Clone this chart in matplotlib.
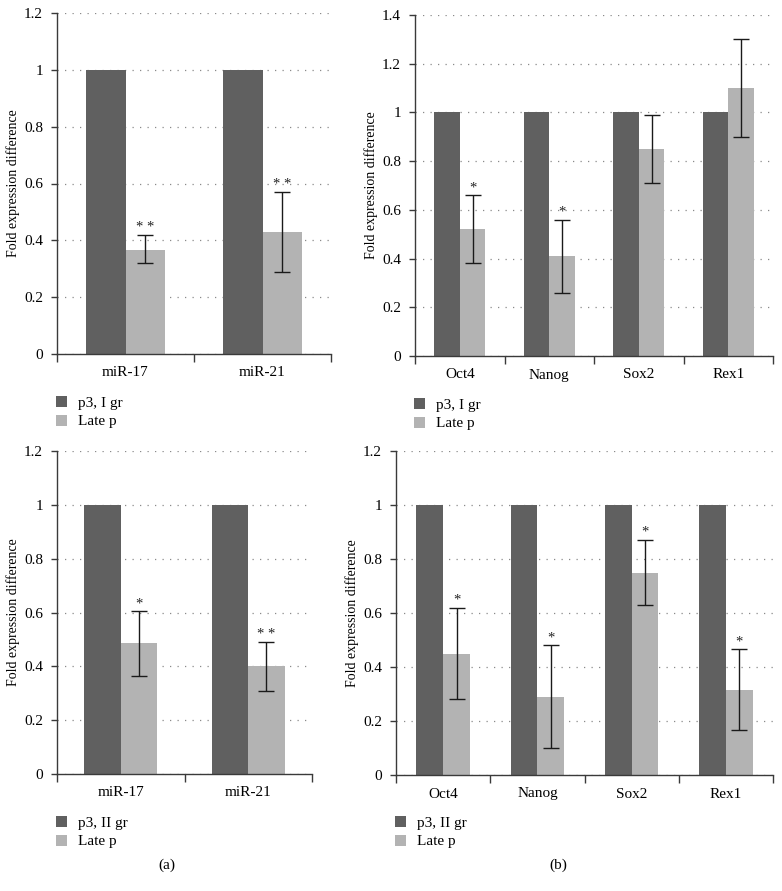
import matplotlib
matplotlib.use("Agg")
import matplotlib.pyplot as plt
from matplotlib.ticker import FuncFormatter
import numpy as np

plt.rcParams["font.family"] = ["Liberation Serif", "DejaVu Serif"]

# ---- data ----
mir_genes = ["miR-17", "miR-21"]
stem_genes = ["Oct4", "Nanog", "Sox2", "Rex1"]

# panel (a) top: p3, I gr vs Late p
a1_ref = [1.0, 1.0]
a1_late = [0.365, 0.43]
a1_lo = [0.32, 0.29]
a1_hi = [0.42, 0.57]
a1_sig = ["* *", "* *"]

# panel (b) top
b1_ref = [1.0, 1.0, 1.0, 1.0]
b1_late = [0.52, 0.41, 0.85, 1.10]
b1_lo = [0.38, 0.26, 0.71, 0.90]
b1_hi = [0.66, 0.56, 0.99, 1.30]
b1_sig = ["*", "*", "", ""]

# panel (a) bottom: p3, II gr vs Late p
a2_ref = [1.0, 1.0]
a2_late = [0.485, 0.40]
a2_lo = [0.365, 0.31]
a2_hi = [0.605, 0.49]
a2_sig = ["*", "* *"]

# panel (b) bottom
b2_ref = [1.0, 1.0, 1.0, 1.0]
b2_late = [0.45, 0.29, 0.75, 0.315]
b2_lo = [0.28, 0.10, 0.63, 0.165]
b2_hi = [0.62, 0.48, 0.87, 0.465]
b2_sig = ["*", "*", "*", "*"]

DARK = "#606060"
LIGHT = "#b3b3b3"
AXC = "#3a3a3a"
W, H = 782, 891
FS = 11


def panel(fig, box, cats, ref, late, lo, hi, sig, ymax, ref_label, leg_xy, ylab_x):
    l, r, t, b = box
    ax = fig.add_axes([l / W, 1 - b / H, (r - l) / W, (b - t) / H])
    x = np.arange(len(cats))
    bw = 0.285
    late = np.array(late)
    err = [late - np.array(lo), np.array(hi) - late]
    ax.bar(x - bw / 2, ref, bw, color=DARK, label=ref_label, zorder=2)
    ax.bar(x + bw / 2, late, bw, color=LIGHT, label="Late p", zorder=2)
    ax.errorbar(x + bw / 2, late, yerr=err, fmt="none", ecolor="#1a1a1a",
                elinewidth=1.0, capsize=5.5, capthick=1.0, zorder=3)
    for xi, h, s in zip(x, hi, sig):
        if s:
            ax.text(xi + bw / 2, h + 0.004, s, ha="center", va="bottom",
                    fontsize=10.5, color="#222")

    ax.set_xlim(-0.5, len(cats) - 0.5)
    ax.set_ylim(0, ymax)
    ax.set_yticks(np.arange(0, ymax + 0.01, 0.2))
    ax.yaxis.set_major_formatter(FuncFormatter(lambda v, p: "%g" % round(v, 1)))
    ax.set_xticks(x)
    ax.set_xticklabels(cats)
    ax.set_xticks(np.arange(len(cats) + 1) - 0.5, minor=True)
    ax.tick_params(axis="x", which="major", length=0, pad=9, labelsize=FS)
    ax.tick_params(axis="x", which="minor", length=6, width=1, color=AXC)
    ax.tick_params(axis="y", length=4, width=1, color=AXC, labelsize=FS, pad=6)

    for s in ["top", "right"]:
        ax.spines[s].set_visible(False)
    for s in ["left", "bottom"]:
        ax.spines[s].set_color(AXC)
        ax.spines[s].set_linewidth(1.0)

    ax.yaxis.grid(True, linestyle=(0, (1, 5)), color="#8a8a8a", linewidth=0.9, zorder=0)
    ax.set_axisbelow(True)

    ax.set_ylabel("Fold expression difference", fontsize=10)
    ax.yaxis.set_label_coords(ylab_x / W, 1 - (t + b) / 2 / H, transform=fig.transFigure)

    ax.legend(loc="upper left", bbox_to_anchor=(leg_xy[0] / W, 1 - leg_xy[1] / H),
              bbox_transform=fig.transFigure, frameon=False, fontsize=FS,
              handlelength=0.75, handleheight=0.75, handletextpad=0.7,
              labelspacing=0.3, borderaxespad=0, borderpad=0)
    return ax


fig = plt.figure(figsize=(W / 100, H / 100), dpi=100)

panel(fig, (57, 331, 13, 354), mir_genes, a1_ref, a1_late, a1_lo, a1_hi, a1_sig,
      1.2, "p3, I gr", (56, 396), 20)
panel(fig, (415, 773, 15, 356), stem_genes, b1_ref, b1_late, b1_lo, b1_hi, b1_sig,
      1.4, "p3, I gr", (414, 398), 378)
panel(fig, (57, 312, 451, 774), mir_genes, a2_ref, a2_late, a2_lo, a2_hi, a2_sig,
      1.2, "p3, II gr", (56, 816), 20)
panel(fig, (396, 773, 451, 775), stem_genes, b2_ref, b2_late, b2_lo, b2_hi, b2_sig,
      1.2, "p3, II gr", (395, 816), 359)

fig.text(167 / W, 1 - 865 / H, "(a)", ha="center", va="center", fontsize=FS)
fig.text(558 / W, 1 - 865 / H, "(b)", ha="center", va="center", fontsize=FS)

fig.savefig("out.png", dpi=100)
